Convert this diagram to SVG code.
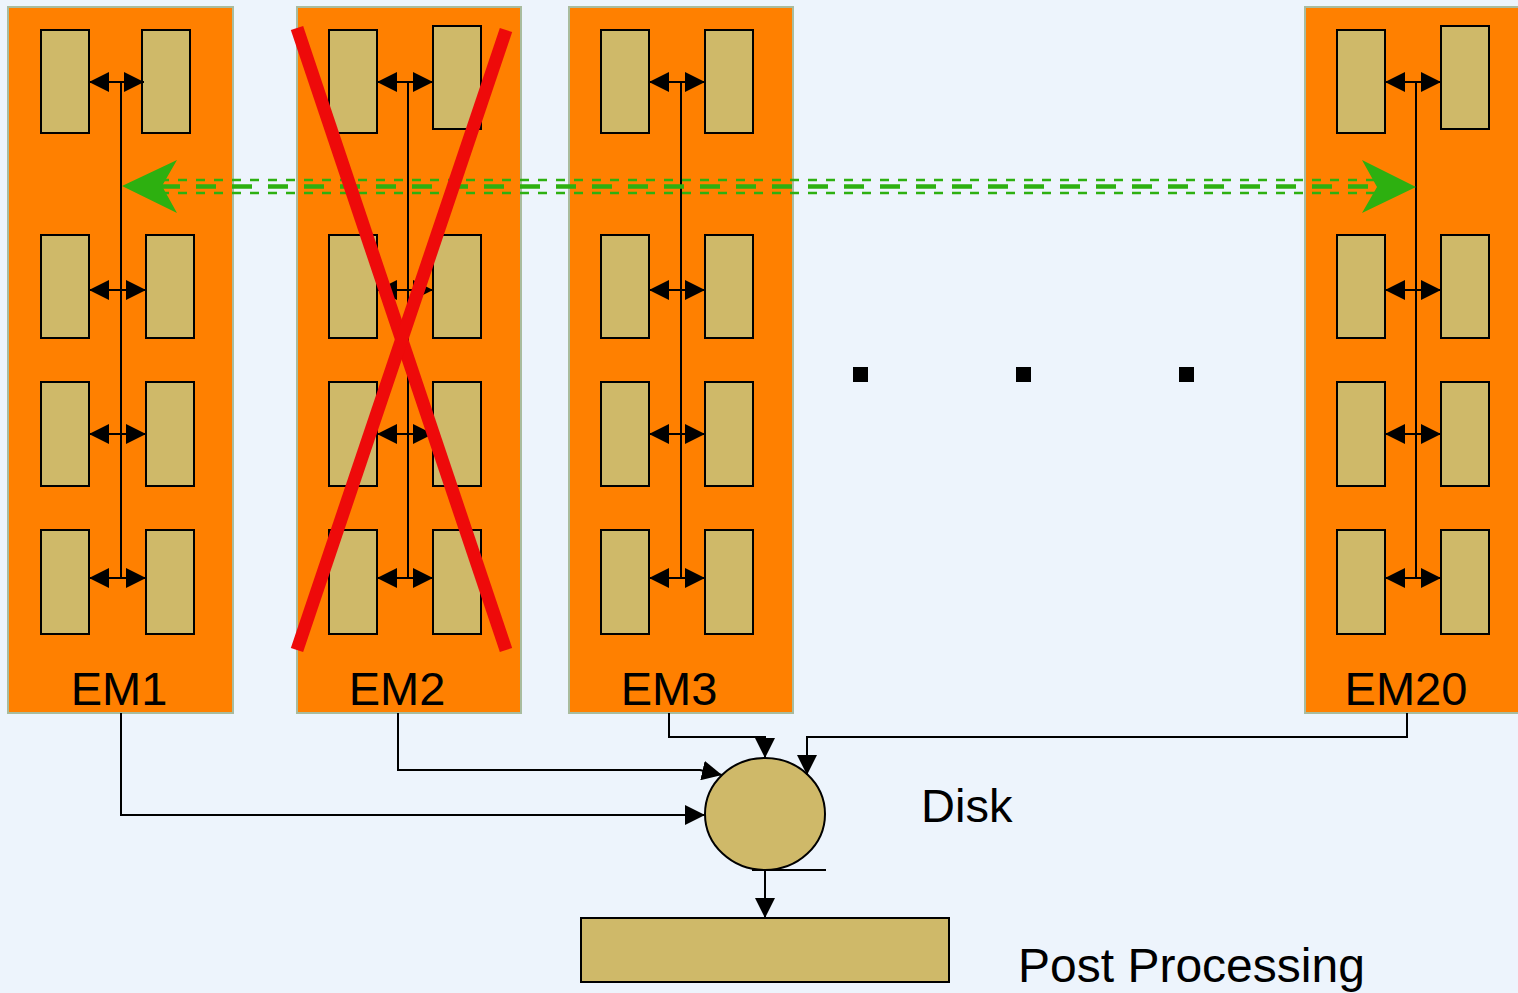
<svg xmlns="http://www.w3.org/2000/svg" width="1518" height="993" viewBox="0 0 1518 993">
  <style>
    .em { fill: #FF8000; stroke: #A9BC9E; stroke-width: 2; }
    .chip { fill: #CFB969; stroke: #000; stroke-width: 2; }
    .bus { fill: none; stroke: #000; stroke-width: 2; }
    .link { fill: none; stroke: #000; stroke-width: 2; marker-start: url(#ah); marker-end: url(#ah); }
    .wire { fill: none; stroke: #000; stroke-width: 2; marker-end: url(#ah); }
    .lbl { font-family: "Liberation Sans", Arial, sans-serif; font-size: 47px; fill: #000; }
    .lbl-c { text-anchor: middle; }
    .xmark { stroke: #EE0A0A; stroke-width: 13; stroke-linecap: butt; }
    .gthin { stroke: #2DB010; stroke-width: 2.5; stroke-dasharray: 9 9; fill: none; }
    .gthick { stroke: #2DB010; stroke-width: 4.5; stroke-dasharray: 20 16; fill: none; }
  </style>
  <defs>
    <marker id="ah" markerUnits="userSpaceOnUse" markerWidth="20" markerHeight="20" refX="20" refY="10" orient="auto-start-reverse">
      <path d="M0,0 L20,10 L0,20 z" fill="#000"/>
    </marker>
  </defs>

  <rect x="0" y="0" width="1518" height="993" fill="#EDF4FC"/>

  <!-- EM1 -->
  <g id="em1">
    <rect class="em" x="8" y="7" width="225" height="706"/>
    <rect class="chip" x="41" y="30" width="48" height="103"/>
    <rect class="chip" x="142" y="30" width="48" height="103"/>
    <rect class="chip" x="41" y="235" width="48" height="103"/>
    <rect class="chip" x="146" y="235" width="48" height="103"/>
    <rect class="chip" x="41" y="382" width="48" height="104"/>
    <rect class="chip" x="146" y="382" width="48" height="104"/>
    <rect class="chip" x="41" y="530" width="48" height="104"/>
    <rect class="chip" x="146" y="530" width="48" height="104"/>
    <line class="bus" x1="121" y1="82" x2="121" y2="578"/>
    <line class="link" x1="89" y1="82" x2="144" y2="82"/>
    <line class="link" x1="89" y1="290" x2="146" y2="290"/>
    <line class="link" x1="89" y1="434" x2="146" y2="434"/>
    <line class="link" x1="89" y1="578" x2="146" y2="578"/>
    <text class="lbl lbl-c" x="119" y="705">EM1</text>
  </g>

  <!-- EM2 -->
  <g id="em2">
    <rect class="em" x="297" y="7" width="224" height="706"/>
    <rect class="chip" x="329" y="30" width="48" height="103"/>
    <rect class="chip" x="433" y="26" width="48" height="103"/>
    <rect class="chip" x="329" y="235" width="48" height="103"/>
    <rect class="chip" x="433" y="235" width="48" height="103"/>
    <rect class="chip" x="329" y="382" width="48" height="104"/>
    <rect class="chip" x="433" y="382" width="48" height="104"/>
    <rect class="chip" x="329" y="530" width="48" height="104"/>
    <rect class="chip" x="433" y="530" width="48" height="104"/>
    <line class="bus" x1="408" y1="82" x2="408" y2="578"/>
    <line class="link" x1="377" y1="82" x2="433" y2="82"/>
    <line class="link" x1="377" y1="290" x2="433" y2="290"/>
    <line class="link" x1="377" y1="434" x2="433" y2="434"/>
    <line class="link" x1="377" y1="578" x2="433" y2="578"/>
    <text class="lbl lbl-c" x="397" y="705">EM2</text>
  </g>

  <!-- EM3 -->
  <g id="em3">
    <rect class="em" x="569" y="7" width="224" height="706"/>
    <rect class="chip" x="601" y="30" width="48" height="103"/>
    <rect class="chip" x="705" y="30" width="48" height="103"/>
    <rect class="chip" x="601" y="235" width="48" height="103"/>
    <rect class="chip" x="705" y="235" width="48" height="103"/>
    <rect class="chip" x="601" y="382" width="48" height="104"/>
    <rect class="chip" x="705" y="382" width="48" height="104"/>
    <rect class="chip" x="601" y="530" width="48" height="104"/>
    <rect class="chip" x="705" y="530" width="48" height="104"/>
    <line class="bus" x1="681" y1="82" x2="681" y2="578"/>
    <line class="link" x1="649" y1="82" x2="705" y2="82"/>
    <line class="link" x1="649" y1="290" x2="705" y2="290"/>
    <line class="link" x1="649" y1="434" x2="705" y2="434"/>
    <line class="link" x1="649" y1="578" x2="705" y2="578"/>
    <text class="lbl lbl-c" x="669" y="705">EM3</text>
  </g>

  <!-- EM20 -->
  <g id="em20">
    <rect class="em" x="1305" y="7" width="224" height="706"/>
    <rect class="chip" x="1337" y="30" width="48" height="103"/>
    <rect class="chip" x="1441" y="26" width="48" height="103"/>
    <rect class="chip" x="1337" y="235" width="48" height="103"/>
    <rect class="chip" x="1441" y="235" width="48" height="103"/>
    <rect class="chip" x="1337" y="382" width="48" height="104"/>
    <rect class="chip" x="1441" y="382" width="48" height="104"/>
    <rect class="chip" x="1337" y="530" width="48" height="104"/>
    <rect class="chip" x="1441" y="530" width="48" height="104"/>
    <line class="bus" x1="1416" y1="82" x2="1416" y2="578"/>
    <line class="link" x1="1385" y1="82" x2="1441" y2="82"/>
    <line class="link" x1="1385" y1="290" x2="1441" y2="290"/>
    <line class="link" x1="1385" y1="434" x2="1441" y2="434"/>
    <line class="link" x1="1385" y1="578" x2="1441" y2="578"/>
    <text class="lbl lbl-c" x="1406" y="705">EM20</text>
  </g>

  <!-- ellipsis between EM3 and EM20 -->
  <g id="ellipsis">
    <rect x="853" y="367" width="15" height="15" fill="#000"/>
    <rect x="1016" y="367" width="15" height="15" fill="#000"/>
    <rect x="1179" y="367" width="15" height="15" fill="#000"/>
  </g>

  <!-- disk -->
  <g id="disk">
    <ellipse cx="765" cy="814" rx="60" ry="56" fill="#CFB969" stroke="#000" stroke-width="2"/>
    <line x1="752" y1="870" x2="826" y2="870" stroke="#000" stroke-width="2"/>
    <text class="lbl" x="921" y="822">Disk</text>
  </g>

  <!-- post processing -->
  <g id="post">
    <rect x="581" y="918" width="368" height="64" fill="#CFB969" stroke="#000" stroke-width="2"/>
    <text class="lbl" x="1018" y="982" style="font-size:48px">Post Processing</text>
  </g>

  <!-- connectors -->
  <g id="connectors">
    <!-- module-to-module traffic -->
    <g id="peer-link">
      <line class="gthin" x1="160" y1="180" x2="1380" y2="180"/>
      <line class="gthick" x1="160" y1="186.5" x2="1380" y2="186.5"/>
      <line class="gthin" x1="160" y1="193" x2="1380" y2="193"/>
      <polygon points="122,186 177,160 162,186 177,213" fill="#2DB010"/>
      <polygon points="1416,187 1362,160 1377,187 1362,213" fill="#2DB010"/>
    </g>
    <path class="wire" d="M121,713 V815 H705"/>
    <path class="wire" d="M398,713 V770 H700 L722,775"/>
    <path class="wire" d="M669,713 V737 H765 V758"/>
    <path class="wire" d="M1407,713 V737 H807 V775"/>
    <path class="wire" d="M765,870 V918"/>
  </g>

  <!-- failed module mark -->
  <g id="em2-failed">
    <line class="xmark" x1="297" y1="28" x2="506" y2="650"/>
    <line class="xmark" x1="506" y1="30" x2="297" y2="650"/>
  </g>
</svg>
